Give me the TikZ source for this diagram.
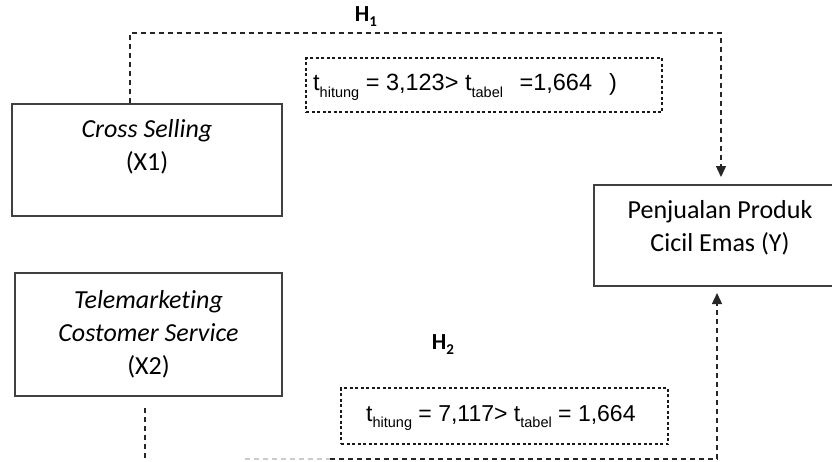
\documentclass[tikz,border=0pt]{standalone}
\usepackage{fontspec}
\setmainfont{Carlito}[Ligatures=NoCommon]
\newfontfamily\arialf{Liberation Sans}
\usetikzlibrary{arrows.meta}
\newcommand{\hsub}[1]{\raisebox{-0.22em}{\fontsize{15}{15}\selectfont #1}}
\newcommand{\tsub}[1]{\raisebox{-0.3em}{\fontsize{14.5}{15}\selectfont #1}}
\tikzset{
  boxline/.style={draw=black!75, line width=1.3pt},
  varbox/.style={boxline, inner sep=0pt},
  tbox/.style={draw=black!90, line width=1.1pt, dash pattern=on 3pt off 2.5pt},
  hyp/.style={draw=black!85, line width=1.3pt, dash pattern=on 5pt off 4pt},
  lbl/.style={font=\fontsize{26}{33}\selectfont, align=center, inner sep=0pt},
  ttext/.style={font=\arialf\fontsize{23}{26}\selectfont, inner sep=0pt},
  ttextb/.style={font=\arialf\fontsize{23.5}{26}\selectfont, inner sep=0pt},
  htext/.style={font=\bfseries\fontsize{23}{26}\selectfont, inner sep=0pt},
  tip/.style={-{Triangle[length=11pt,width=10pt]}}
}
\begin{document}
\begin{tikzpicture}[x=1pt,y=-1pt]
\useasboundingbox (0,0) rectangle (832,461);
% variable boxes
\node[varbox, minimum width=270pt, minimum height=112pt] (x1) at (147,160) {};
\node[lbl] (x1t) at (147,146.5) {\itshape Cross Selling\\(X1)};
\node[varbox, minimum width=267pt, minimum height=123pt, lbl, boxline] (x2) at (148.5,334.5) {\itshape Telemarketing\\\itshape Costomer Service\\(X2)};
\node[varbox, minimum width=240pt, minimum height=101pt] (y) at (714,235.5) {};
\node[lbl] (yt) at (720,228) {Penjualan Produk\\Cicil Emas (Y)};
% t boxes
\node[tbox, minimum width=356pt, minimum height=54pt] (t1) at (484,85) {};
\node[ttextb, anchor=west] (t1t) at (313,87) {t\tsub{hitung} = 3,123> t\tsub{tabel}\hspace{10pt} =1,664\hspace{17pt})};
\node[tbox, minimum width=327pt, minimum height=56pt] (t2) at (504.5,416) {};
\node[ttext, anchor=west] (t2t) at (366,418) {t\tsub{hitung} = 7,117> t\tsub{tabel} = 1,664};
% hypothesis labels
\node[htext] (h1) at (366,17) {H\hsub{1}};
\node[htext] (h2) at (443,345) {H\hsub{2}};
% connectors
\coordinate (a1) at (130,33);
\coordinate (a2) at (721,33);
\coordinate (a3) at (721,177);
\draw[hyp, tip] (x1.north -| a1) -- (a1) -- (a2) -- (a3);
\coordinate (b0) at (145,408);
\coordinate (b1) at (145,470);
\draw[hyp] (b0) -- (b1);
\coordinate (c0) at (245,459);
\coordinate (c1) at (330,459);
\coordinate (c2) at (717,459);
\coordinate (c3) at (717,293);
\draw[hyp, draw=black!20] (c0) -- (c1);
\draw[hyp, tip] (c1) -- (c2) -- (c3);
\end{tikzpicture}
\end{document}
